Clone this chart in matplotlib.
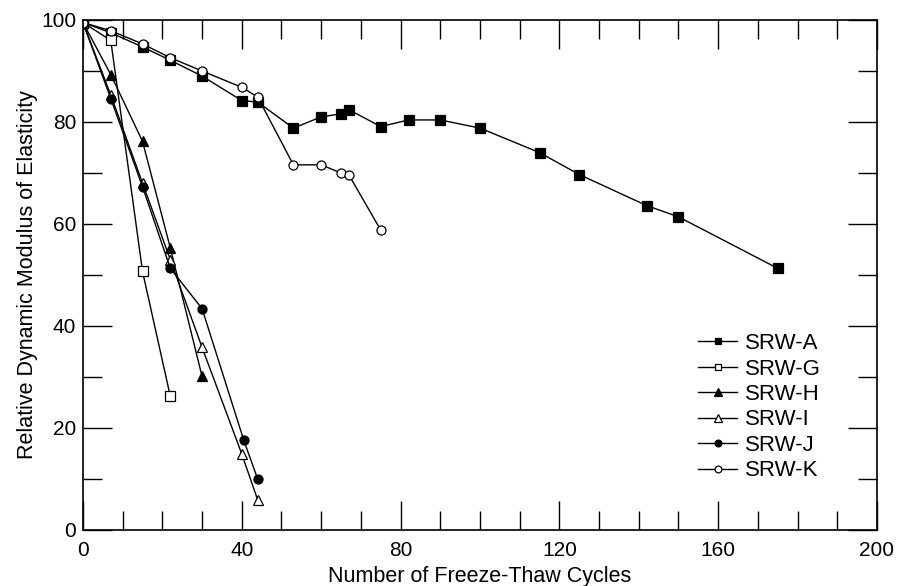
import numpy as np
import matplotlib
matplotlib.use('Agg')
import matplotlib.pyplot as plt
from matplotlib.ticker import MultipleLocator

plt.rcParams['font.family'] = ['Liberation Sans', 'DejaVu Sans']

## freeze-thaw cycles and relative dynamic modulus for each mix
cyclesA = [0, 7, 15, 22, 30, 40, 44, 53, 60, 65, 67, 75, 82, 90, 100, 115, 125, 142, 150, 175]
srwA = [99.5, 97.5, 94.7, 92.1, 89.0, 84.2, 83.9, 78.8, 81.0, 81.6, 82.4, 79.1, 80.4, 80.4, 78.8, 74.0, 69.7, 63.6, 61.4, 51.3]
cyclesG = [0, 7, 15, 22]
srwG = [99.5, 96.0, 50.7, 26.2]
cyclesH = [0, 7, 15, 22, 30]
srwH = [99.5, 89.3, 76.2, 55.3, 30.1]
cyclesI = [0, 7, 15, 22, 30, 40, 44]
srwI = [99.5, 85.3, 68.0, 53.0, 35.8, 14.9, 5.9]
cyclesJ = [0, 7, 15, 22, 30, 40.5, 44]
srwJ = [99.5, 84.6, 67.3, 51.3, 43.4, 17.6, 10.0]
cyclesK = [0, 7, 15, 22, 30, 40, 44, 53, 60, 65, 67, 75]
srwK = [99.5, 97.9, 95.3, 92.6, 90.0, 86.8, 84.9, 71.6, 71.6, 70.0, 69.6, 58.8]

series = [
	('SRW-A', cyclesA, srwA, 's', 'black', 6.5),
	('SRW-G', cyclesG, srwG, 's', 'white', 6.5),
	('SRW-H', cyclesH, srwH, '^', 'black', 7.5),
	('SRW-I', cyclesI, srwI, '^', 'white', 7.5),
	('SRW-J', cyclesJ, srwJ, 'o', 'black', 6.5),
	('SRW-K', cyclesK, srwK, 'o', 'white', 6.5),
]

fig = plt.figure(figsize = (8.98, 5.86), dpi = 100)
ax = fig.add_axes([0.0924, 0.0956, 0.8842, 0.8703])

for name, x, y, marker, face, size in series:
	ax.plot(x, y, '-', color = 'black', linewidth = 1.0, marker = marker,
		markerfacecolor = face, markeredgecolor = 'black', markeredgewidth = 0.9,
		markersize = size, label = name)

ax.set_xlim(0, 200)
ax.set_ylim(0, 100)
ax.xaxis.set_major_locator(MultipleLocator(40))
ax.xaxis.set_minor_locator(MultipleLocator(10))
ax.yaxis.set_major_locator(MultipleLocator(20))
ax.yaxis.set_minor_locator(MultipleLocator(10))
ax.tick_params(which = 'both', direction = 'in', top = True, right = True, width = 1.0, color = 'black')
ax.tick_params(which = 'major', length = 21, labelsize = 15)
ax.tick_params(axis = 'x', which = 'major', pad = 8)
ax.tick_params(axis = 'y', which = 'major', pad = 5)
ax.tick_params(which = 'minor', length = 14)
for spine in ax.spines.values():
	spine.set_linewidth(1.2)

ax.set_xlabel('Number of Freeze-Thaw Cycles', fontsize = 15.5, labelpad = 4)
ax.set_ylabel('Relative Dynamic Modulus of Elasticity', fontsize = 15.5, labelpad = 2)

ax.legend(loc = 'upper left', bbox_to_anchor = (0.775, 0.386), frameon = False,
	fontsize = 16, handlelength = 1.75, handletextpad = 0.35, labelspacing = 0.2,
	markerscale = 0.75, borderpad = 0, borderaxespad = 0)

fig.savefig('out.png', dpi = 100)
